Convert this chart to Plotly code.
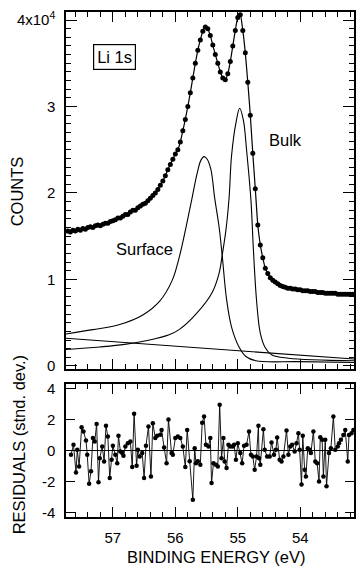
import plotly.graph_objects as go

# ---- measured spectrum (binding energy in eV, counts) ----
energy = [
    57.72, 57.68, 57.64, 57.60, 57.56, 57.52, 57.48, 57.44, 57.40, 57.36,
    57.32, 57.28, 57.24, 57.20, 57.16, 57.12, 57.08, 57.04, 57.00, 56.96,
    56.92, 56.88, 56.84, 56.80, 56.76, 56.72, 56.68, 56.64, 56.60, 56.56,
    56.52, 56.48, 56.44, 56.40, 56.36, 56.32, 56.28, 56.24, 56.20, 56.16,
    56.12, 56.08, 56.04, 56.00, 55.96, 55.92, 55.88, 55.84, 55.80, 55.76,
    55.72, 55.68, 55.64, 55.60, 55.56, 55.52, 55.48, 55.44, 55.40, 55.36,
    55.32, 55.28, 55.24, 55.20, 55.16, 55.12, 55.08, 55.04, 55.00, 54.96,
    54.92, 54.88, 54.84, 54.80, 54.76, 54.72, 54.68, 54.64, 54.60, 54.56,
    54.52, 54.48, 54.44, 54.40, 54.36, 54.32, 54.28, 54.24, 54.20, 54.16,
    54.12, 54.08, 54.04, 54.00, 53.96, 53.92, 53.88, 53.84, 53.80, 53.76,
    53.72, 53.68, 53.64, 53.60, 53.56, 53.52, 53.48, 53.44, 53.40, 53.36,
    53.32, 53.28, 53.24, 53.20, 53.16,
]
counts = [
    15600, 15500, 15700, 15600, 15800, 15700, 15900, 15800, 16000, 16100,
    16000, 16200, 16300, 16200, 16400, 16500, 16500, 16700, 16800, 16900,
    17100, 17100, 17300, 17500, 17500, 17800, 18000, 18000, 18300, 18500,
    18700, 18800, 19100, 19400, 19700, 20000, 20400, 20900, 21400, 22000,
    22700, 23300, 23900, 24500, 25000, 25900, 27200, 28500, 30000, 31600,
    33300, 35000, 36500, 37700, 38700, 39200, 39000, 38200, 37100, 36000,
    35000, 34000, 33300, 33100, 33800, 35200, 37000, 38800, 40300, 40600,
    38800, 36200, 32800, 29000, 24600, 20500, 16300, 14000, 12500, 11300,
    10700, 10200, 9900, 9700, 9500, 9300, 9200, 9100, 9000, 9000,
    8900, 8900, 8800, 8800, 8700, 8700, 8700, 8600, 8600, 8600,
    8500, 8500, 8500, 8400, 8400, 8400, 8400, 8400, 8300, 8300,
    8300, 8300, 8300, 8300, 8300,
]

# ---- fitted components ----
surf_energy = [57.75, 57.32, 56.89, 56.52, 56.25, 56.05, 55.94, 55.83, 55.73,
               55.65, 55.59, 55.54, 55.49, 55.43, 55.37, 55.30, 55.25, 55.18,
               55.10, 54.98, 54.87, 54.71, 54.03, 53.14]
surf_counts = [3700, 4200, 4800, 5900, 7500, 9900, 12500, 16000, 19500,
               22300, 23800, 24200, 23900, 22700, 19400, 16100, 12800, 7700,
               4500, 2200, 1100, 600, 500, 400]

bulk_energy = [57.75, 57.21, 56.81, 56.41, 56.10, 55.94, 55.67, 55.41, 55.30,
               55.25, 55.19, 55.14, 55.10, 55.03, 54.97, 54.91, 54.86, 54.79,
               54.75, 54.70, 54.64, 54.56, 54.46, 54.19, 53.14]
bulk_counts = [1900, 2200, 2500, 3000, 3600, 4200, 6000, 8500, 10700, 12800,
               15700, 19400, 24300, 28100, 29800, 28400, 25000, 19200, 13400,
               7600, 3800, 2100, 1300, 900, 600]

bg_energy = [57.75, 53.14]
bg_counts = [3200, 800]

# ---- residuals (standard deviations) ----
res_energy = [
    57.67, 57.63, 57.59, 57.57, 57.54, 57.50, 57.47, 57.43, 57.41, 57.38,
    57.35, 57.32, 57.29, 57.26, 57.23, 57.21, 57.17, 57.14, 57.11, 57.08,
    57.05, 57.02, 57.00, 56.96, 56.93, 56.91, 56.88, 56.85, 56.83, 56.80,
    56.76, 56.72, 56.69, 56.66, 56.62, 56.60, 56.57, 56.53, 56.50, 56.47,
    56.43, 56.39, 56.36, 56.32, 56.29, 56.24, 56.22, 56.18, 56.14, 56.11,
    56.06, 56.04, 56.00, 55.96, 55.92, 55.88, 55.84, 55.81, 55.77, 55.72,
    55.69, 55.67, 55.64, 55.60, 55.57, 55.54, 55.51, 55.47, 55.44, 55.42,
    55.39, 55.35, 55.32, 55.29, 55.26, 55.23, 55.21, 55.18, 55.15, 55.12,
    55.08, 55.06, 55.03, 55.00, 54.96, 54.93, 54.90, 54.86, 54.82, 54.79,
    54.76, 54.73, 54.70, 54.67, 54.66, 54.64, 54.59, 54.57, 54.53, 54.49,
    54.46, 54.42, 54.39, 54.37, 54.33, 54.30, 54.27, 54.22, 54.19, 54.16,
    54.13, 54.09, 54.06, 54.03, 54.01, 53.98, 53.96, 53.93, 53.91, 53.88,
    53.85, 53.83, 53.79, 53.76, 53.73, 53.70, 53.68, 53.65, 53.63, 53.60,
    53.58, 53.54, 53.51, 53.47, 53.44, 53.40, 53.38, 53.35, 53.31, 53.28,
    53.24, 53.22, 53.18, 53.15,
]
res_values = [
    -0.28, 0.37, -1.42, 0.04, -1.03, 1.50, 1.23, 0.65, -0.28, -2.15,
    -1.35, 0.80, 0.58, 1.72, -2.06, -0.50, 0.26, -0.71, 1.60, 0.90,
    -1.78, -0.60, 0.30, -0.28, -0.82, 0.95, -0.06, -0.17, -0.34, 0.26,
    0.47, 0.58, -1.07, 2.37, -0.99, 0.04, -0.39, -0.17, -1.78, 0.30,
    1.55, -1.68, 1.76, 0.80, 0.95, 1.01, 1.33, 0.20, -0.82, 2.00,
    -0.17, -0.28, 0.80, 0.90, 0.80, 0.26, -1.07, 1.33, -0.70, -3.18,
    0.15, -0.82, -0.70, -0.92, 1.80, 2.19, 0.37, 0.26, 0.80, -2.10,
    -0.82, -0.92, -1.03, 2.95, -0.50, 0.80, -0.71, -1.14, 0.37, 0.26,
    0.26, 0.37, -0.60, 0.47, -0.17, -0.82, 0.30, 0.37, 1.23, -0.28,
    -0.39, -1.25, -0.39, 1.60, -0.50, -0.92, 1.38, 0.04, -0.39, -0.39,
    0.52, -0.28, 0.04, 0.84, -0.60, -0.71, -0.39, 1.29, -0.28, 0.26,
    0.37, -0.06, 0.47, 1.12, 0.04, -2.20, 0.95, -1.25, -1.68, 0.15,
    0.04, -0.17, 1.23, -0.71, -0.82, -2.00, 0.86, 0.69, -1.68, 0.69,
    -2.32, -0.17, 0.15, 2.19, 0.04, 0.26, 0.47, 0.69, 1.00, 1.33,
    -0.71, 1.00, 1.12, 1.33,
]

count_tickvals = [0, 10000, 20000, 30000, 40000]
count_ticktext = ["0", "1", "2", "3", "4x10<sup>4</sup>"]
res_tickvals = [-4, -2, 0, 2, 4]
res_ticktext = ["-4", "-2", "0", "2", "4"]

FONT = "Liberation Sans, Arial, sans-serif"
BLACK = "black"

fig = go.Figure()

fig.add_trace(go.Scatter(x=bg_energy, y=bg_counts, mode="lines",
                         line=dict(color=BLACK, width=1.1),
                         xaxis="x", yaxis="y", hoverinfo="skip"))
fig.add_trace(go.Scatter(x=surf_energy, y=surf_counts, mode="lines",
                         line=dict(color=BLACK, width=1.1, shape="spline", smoothing=1.0),
                         xaxis="x", yaxis="y"))
fig.add_trace(go.Scatter(x=bulk_energy, y=bulk_counts, mode="lines",
                         line=dict(color=BLACK, width=1.1, shape="spline", smoothing=1.0),
                         xaxis="x", yaxis="y"))
fig.add_trace(go.Scatter(x=energy, y=counts, mode="lines+markers",
                         line=dict(color=BLACK, width=1.2, shape="spline", smoothing=0.5),
                         marker=dict(color=BLACK, size=5),
                         xaxis="x", yaxis="y"))
fig.add_trace(go.Scatter(x=res_energy, y=res_values, mode="lines+markers",
                         line=dict(color=BLACK, width=0.9),
                         marker=dict(color=BLACK, size=4.5),
                         xaxis="x2", yaxis="y2"))

xcommon = dict(range=[57.75, 53.14], showline=True, linecolor=BLACK, linewidth=1.5,
               mirror="allticks", ticks="inside", ticklen=10, tickwidth=1,
               tickcolor=BLACK, tick0=54, dtick=1, showgrid=False, zeroline=False,
               minor=dict(dtick=0.2, tick0=54, ticks="inside", ticklen=5,
                          tickwidth=1, tickcolor=BLACK, showgrid=False))

fig.update_layout(
    width=360, height=572,
    margin=dict(l=66, r=4, t=12, b=55),
    paper_bgcolor="white", plot_bgcolor="white",
    showlegend=False,
    font=dict(family=FONT, size=15, color=BLACK),
    xaxis=dict(**xcommon, anchor="y", showticklabels=False),
    xaxis2=dict(**xcommon, anchor="y2", showticklabels=True,
                tickfont=dict(size=15), ticklabelstandoff=6),
    yaxis=dict(domain=[0.2931, 1.0], range=[-347, 40925], anchor="x",
               showline=True, linecolor=BLACK, linewidth=1.5, mirror="allticks",
               ticks="inside", ticklen=11, tickwidth=1, tickcolor=BLACK,
               tickvals=count_tickvals, ticktext=count_ticktext,
               showgrid=False, zeroline=False, tickfont=dict(size=15),
               ticklabelstandoff=6,
               minor=dict(dtick=1000, tick0=0, ticks="inside", ticklen=5,
                          tickwidth=1, tickcolor=BLACK, showgrid=False)),
    yaxis2=dict(domain=[0.0, 0.2634], range=[-4.3, 4.3], anchor="x2",
                showline=True, linecolor=BLACK, linewidth=1.5, mirror="allticks",
                ticks="inside", ticklen=9, tickwidth=1, tickcolor=BLACK,
                tickvals=res_tickvals, ticktext=res_ticktext,
                showgrid=False, zeroline=True, zerolinecolor=BLACK, zerolinewidth=1.2,
                tickfont=dict(size=15), ticklabelstandoff=6),
)

ann_font = dict(family=FONT, size=16.5, color=BLACK)
fig.add_annotation(text="COUNTS", xref="paper", yref="paper", x=-0.169, y=0.6455,
                   textangle=-90, showarrow=False, font=ann_font,
                   xanchor="center", yanchor="middle")
fig.add_annotation(text="RESIDUALS (stnd. dev.)", xref="paper", yref="paper",
                   x=-0.162, y=0.1426, textangle=-90, showarrow=False, font=ann_font,
                   xanchor="center", yanchor="middle")
fig.add_annotation(text="BINDING ENERGY (eV)", xref="paper", yref="paper",
                   x=(217 - 66) / 290, y=-(557 - 517) / 505, showarrow=False,
                   font=ann_font, xanchor="center", yanchor="middle")
fig.add_annotation(text="Surface", xref="x", yref="y", x=56.49, y=13500,
                   showarrow=False, font=ann_font, xanchor="center", yanchor="middle")
fig.add_annotation(text="Bulk", xref="x", yref="y", x=54.24, y=26100,
                   showarrow=False, font=ann_font, xanchor="center", yanchor="middle")
fig.add_annotation(text="Li 1s", xref="x", yref="y", x=56.98, y=35700,
                   showarrow=False, font=ann_font, xanchor="center", yanchor="middle",
                   bordercolor=BLACK, borderwidth=1.2, borderpad=3, bgcolor="white")

fig.write_html("out.html")
